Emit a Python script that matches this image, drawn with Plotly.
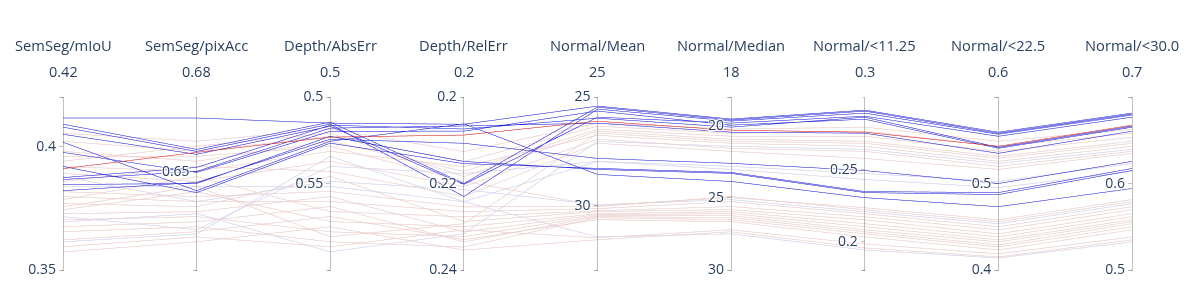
import plotly.graph_objects as go

# ---- data (faded runs F1..F26, then highlighted B1..B11, then red R) ----
semseg_miou = [0.4053, 0.4021, 0.398, 0.394, 0.3919, 0.3891, 0.3858, 0.3838, 0.3817, 0.3797,
               0.3785, 0.3769, 0.3744, 0.3728, 0.3703, 0.3675, 0.3655, 0.3622, 0.3594, 0.3573,
               0.3878, 0.3716, 0.3614, 0.396, 0.3756, 0.3695,
               0.4115, 0.409, 0.4078, 0.4049, 0.3874, 0.3866, 0.3976, 0.4017, 0.3821, 0.3919, 0.3846,
               0.391]
semseg_pixacc = [0.6621, 0.658, 0.654, 0.6601, 0.6499, 0.6458, 0.6519, 0.6438, 0.6397, 0.6377,
                 0.6478, 0.6356, 0.6417, 0.6336, 0.6316, 0.6295, 0.6275, 0.6255, 0.6234, 0.6214,
                 0.6377, 0.6263, 0.6246, 0.656, 0.6438, 0.6328,
                 0.6715, 0.6588, 0.658, 0.6568, 0.6515, 0.6499, 0.6495, 0.6421, 0.6454, 0.6413, 0.645,
                 0.6576]
depth_abserr = [0.5186, 0.5227, 0.5256, 0.5209, 0.5314, 0.5372, 0.543, 0.5517, 0.5546, 0.5604,
                0.5662, 0.5459, 0.572, 0.5575, 0.5779, 0.5633, 0.5837, 0.5691, 0.5866, 0.575,
                0.5488, 0.5401, 0.5343, 0.5285, 0.5808, 0.5895,
                0.5151, 0.5145, 0.5157, 0.5169, 0.5163, 0.518, 0.5198, 0.5256, 0.5244, 0.5267, 0.5227,
                0.5232]
depth_relerr = [0.2126, 0.2149, 0.2172, 0.2184, 0.2161, 0.2207, 0.223, 0.2242, 0.2254, 0.2265,
                0.2277, 0.2288, 0.23, 0.2312, 0.2323, 0.2335, 0.2347, 0.233, 0.2307, 0.2354,
                0.2214, 0.2177, 0.2242, 0.2195, 0.2293, 0.2316,
                0.2063, 0.22, 0.223, 0.2202, 0.2074, 0.2067, 0.2079, 0.2062, 0.2107, 0.2154, 0.2149,
                0.2088]
normal_mean = [26.21, 26.35, 26.49, 26.58, 26.77, 26.95, 27.14, 27.98, 30.07, 30.16,
               30.26, 30.30, 30.40, 30.44, 30.49, 30.53, 30.58, 30.67, 31.51, 31.60,
               29.98, 27.98, 31.47, 30.02, 26.67, 27.05,
               25.42, 25.47, 25.56, 25.93, 25.98, 26.21, 25.65, 28.58, 27.84, 28.30, 28.35,
               26.12]
normal_median = [20.23, 20.51, 20.72, 20.93, 21.21, 21.56, 21.77, 22.81, 24.91, 25.26,
                 25.60, 25.81, 25.95, 26.09, 26.23, 26.37, 26.51, 26.65, 27.21, 27.35,
                 25.12, 23.02, 27.49, 24.98, 21.07, 21.42,
                 19.53, 19.60, 19.67, 19.81, 20.09, 20.44, 19.95, 23.86, 22.60, 23.23, 23.30,
                 20.30]
normal_11 = [0.2791, 0.2763, 0.2728, 0.2693, 0.2658, 0.2623, 0.2574, 0.247, 0.2218, 0.219,
             0.2169, 0.2148, 0.2121, 0.21, 0.2079, 0.2065, 0.2051, 0.203, 0.1981, 0.1953,
             0.2204, 0.2428, 0.1939, 0.2232, 0.2679, 0.2637,
             0.2909, 0.2902, 0.2888, 0.2867, 0.286, 0.2749, 0.2846, 0.2302, 0.249, 0.2344, 0.2337,
             0.2756]
normal_22 = [0.5488, 0.543, 0.5372, 0.5314, 0.5256, 0.5198, 0.5163, 0.5023, 0.4558, 0.45,
             0.4465, 0.4418, 0.4383, 0.4349, 0.4325, 0.429, 0.4267, 0.4232, 0.4186, 0.4151,
             0.4535, 0.4953, 0.4139, 0.4581, 0.5291, 0.5232,
             0.5593, 0.5581, 0.557, 0.5546, 0.5418, 0.5349, 0.5407, 0.4732, 0.50, 0.4895, 0.4872,
             0.543]
normal_30 = [0.6628, 0.6581, 0.6535, 0.6488, 0.643, 0.6372, 0.6349, 0.6232, 0.579, 0.5732,
             0.5697, 0.5651, 0.5616, 0.5581, 0.5558, 0.5535, 0.55, 0.5465, 0.5383, 0.5349,
             0.5767, 0.6139, 0.5325, 0.5814, 0.6465, 0.6395,
             0.6814, 0.6802, 0.6791, 0.6767, 0.6663, 0.6605, 0.6651, 0.5942, 0.6256, 0.6174, 0.6151,
             0.6674]
# 0 = faded blue, 1 = faded pink, 2 = blue, 3 = red
group = [1, 1, 1, 1, 1, 1, 1, 0, 1, 1,
         1, 1, 1, 1, 1, 1, 1, 1, 1, 1,
         0, 0, 0, 1, 1, 0,
         2, 2, 2, 2, 2, 2, 2, 2, 2, 2, 2,
         3]

labels = ["SemSeg/mIoU", "SemSeg/pixAcc", "Depth/AbsErr", "Depth/RelErr", "Normal/Mean",
          "Normal/Median", "Normal/<11.25", "Normal/<22.5", "Normal/<30.0"]
ranges = [[0.35, 0.42], [0.61, 0.68], [0.6, 0.5], [0.24, 0.2], [33, 25],
          [30, 18], [0.18, 0.3], [0.4, 0.6], [0.5, 0.7]]
top_labels = ["0.42", "0.68", "0.5", "0.2", "25", "18", "0.3", "0.6", "0.7"]
tickvals = [[0.35, 0.4, 0.42], [0.61, 0.65, 0.68], [0.5, 0.55, 0.6], [0.2, 0.22, 0.24],
            [25, 30, 33], [18, 20, 25, 30], [0.18, 0.2, 0.25, 0.3], [0.4, 0.5, 0.6],
            [0.5, 0.6, 0.7]]
ticktext = [["0.35", "0.4", ""], ["", "0.65", ""], ["0.5", "0.55", ""], ["0.2", "0.22", "0.24"],
            ["25", "30", ""], ["", "20", "25", "30"], ["", "0.2", "0.25", ""], ["0.4", "0.5", ""],
            ["0.5", "0.6", ""]]
series = [semseg_miou, semseg_pixacc, depth_abserr, depth_relerr, normal_mean,
          normal_median, normal_11, normal_22, normal_30]

dims = [dict(label="", values=v, range=r, tickvals=tv, ticktext=tt)
        for v, r, tv, tt in zip(series, ranges, tickvals, ticktext)]

fb = "rgb(214,214,250)"
fp = "rgb(250,208,208)"
sb = "rgb(25,25,230)"
sr = "rgb(228,20,20)"
cs = [[0, fb], [0.1667, fb], [0.1667, fp], [0.5, fp], [0.5, sb], [0.8333, sb], [0.8333, sr], [1, sr]]

TXT = "#2a3f5f"
fig = go.Figure(go.Parcoords(
    line=dict(color=group, colorscale=cs, cmin=0, cmax=3, showscale=False),
    dimensions=dims,
    labelfont=dict(size=14, color=TXT),
    tickfont=dict(size=14, color=TXT),
    rangefont=dict(size=14, color=TXT),
))

n = len(labels)
annotations = []
for i, (lab, top) in enumerate(zip(labels, top_labels)):
    xp = i / (n - 1)
    annotations.append(dict(x=xp, y=1, xref="paper", yref="paper", text=lab, showarrow=False,
                            xanchor="center", yanchor="middle", yshift=50,
                            font=dict(size=14.7, color=TXT)))
    annotations.append(dict(x=xp, y=1, xref="paper", yref="paper", text=top, showarrow=False,
                            xanchor="center", yanchor="middle", yshift=24,
                            font=dict(size=14.5, color=TXT)))

fig.update_layout(
    width=1180, height=268,
    margin=dict(l=55, r=56, t=87, b=4),
    paper_bgcolor="white", plot_bgcolor="white",
    font=dict(family="Open Sans, sans-serif", size=14, color=TXT),
    annotations=annotations,
)
fig.write_html("out.html")
